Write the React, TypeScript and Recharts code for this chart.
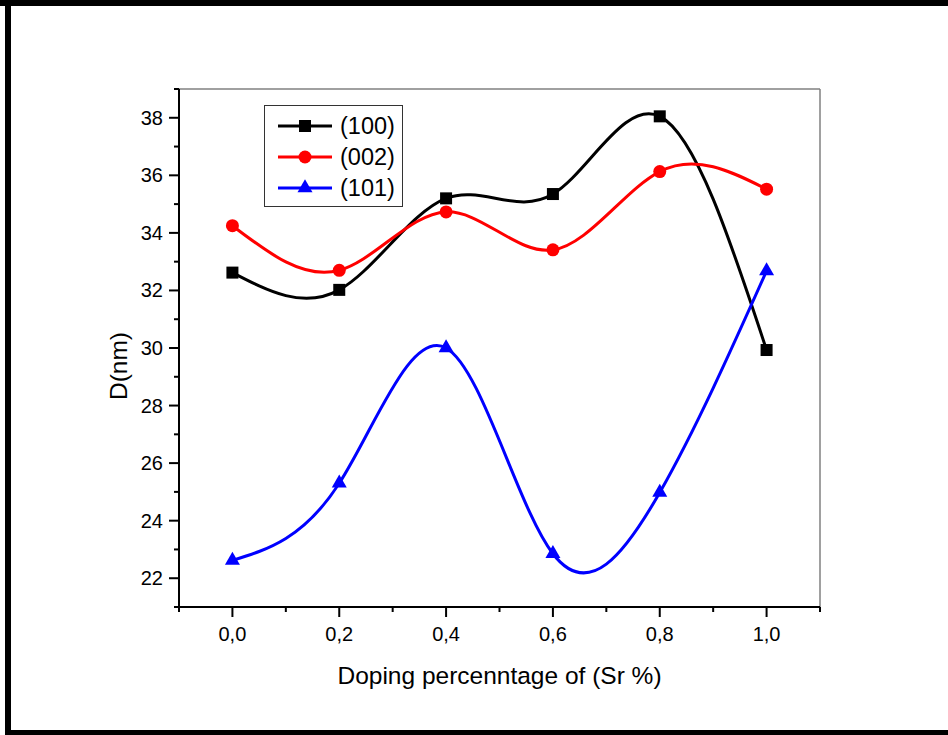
import React from 'react'
import { LineChart, Line, XAxis, YAxis, ReferenceLine, Legend } from 'recharts'

// doping level (Sr %) and crystallite size D (nm) per reflection
const dopingLevels = [0, 0.2, 0.4, 0.6, 0.8, 1.0]
const d100 = [32.62, 32.02, 35.2, 35.35, 38.05, 29.93]
const d002 = [34.25, 32.7, 34.73, 33.41, 36.13, 35.52]
const d101 = [22.62, 25.3, 30.0, 22.85, 24.98, 32.68]

const xTicks = [-0.1, 0, 0.1, 0.2, 0.3, 0.4, 0.5, 0.6, 0.7, 0.8, 0.9, 1.0, 1.1]
const xMajor = [0, 0.2, 0.4, 0.6, 0.8, 1.0]
const yTicks = [21, 22, 23, 24, 25, 26, 27, 28, 29, 30, 31, 32, 33, 34, 35, 36, 37, 38, 39]
const yMajor = [22, 24, 26, 28, 30, 32, 34, 36, 38]

const chartData = dopingLevels.map((x, i) => ({
  x,
  '(100)': d100[i],
  '(002)': d002[i],
  '(101)': d101[i],
}))

const FONT = '"Liberation Sans", Arial, sans-serif'

const isMajor = (list: number[], v: number) => list.some(m => Math.abs(m - v) < 1e-6)

const XTick = (props: any) => {
  const { x, y, payload } = props
  const major = isMajor(xMajor, payload.value)
  return (
    <g>
      <line x1={x} x2={x} y1={y} y2={y + (major ? 10 : 5)} stroke="#000" strokeWidth={2} />
      {major && (
        <text x={x} y={y + 34} textAnchor="middle" fontSize={20} fontFamily={FONT} fill="#000">
          {payload.value.toFixed(1).replace('.', ',')}
        </text>
      )}
    </g>
  )
}

const YTick = (props: any) => {
  const { x, y, payload } = props
  const major = isMajor(yMajor, payload.value)
  return (
    <g>
      <line x1={x} x2={x - (major ? 10 : 5)} y1={y} y2={y} stroke="#000" strokeWidth={2} />
      {major && (
        <text x={x - 16} y={y + 7} textAnchor="end" fontSize={20} fontFamily={FONT} fill="#000">
          {payload.value}
        </text>
      )}
    </g>
  )
}

const Square = ({ cx, cy, fill, size = 12 }: any) =>
  cx == null ? null : <rect x={cx - size / 2} y={cy - size / 2} width={size} height={size} fill={fill} />

const Circle = ({ cx, cy, fill, size = 13 }: any) =>
  cx == null ? null : <circle cx={cx} cy={cy} r={size / 2} fill={fill} />

const Triangle = ({ cx, cy, fill, size = 15 }: any) => {
  if (cx == null) return null
  const h = size * 0.87
  return (
    <polygon
      points={`${cx},${cy - (h * 2) / 3} ${cx - size / 2},${cy + h / 3} ${cx + size / 2},${cy + h / 3}`}
      fill={fill}
    />
  )
}

const series = [
  { key: '(100)', color: '#000000', Marker: Square },
  { key: '(002)', color: '#ff0000', Marker: Circle },
  { key: '(101)', color: '#0000ff', Marker: Triangle },
]

const LegendBox = () => (
  <div
    style={{
      width: 139,
      height: 102,
      border: '1.5px solid #333',
      boxSizing: 'border-box',
      background: '#fff',
      fontFamily: FONT,
    }}
  >
    <svg width={136} height={99}>
      {series.map((s, i) => {
        const cy = 20 + i * 31
        return (
          <g key={s.key}>
            <line x1={13} x2={67} y1={cy} y2={cy} stroke={s.color} strokeWidth={3} />
            <s.Marker cx={40} cy={cy} fill={s.color} />
            <text x={75} y={cy + 8} fontSize={23.5} fontFamily={FONT} fill="#000">
              {s.key}
            </text>
          </g>
        )
      })}
    </svg>
  </div>
)

export default function App() {
  return (
    <div style={{ position: 'absolute', left: 0, top: 0, width: 948, height: 735, background: '#fff' }}>
      <div style={{ position: 'absolute', left: 0, top: 0, width: 948, height: 6, background: '#000' }} />
      <div style={{ position: 'absolute', left: 5, top: 0, width: 6, height: 735, background: '#000' }} />
      <div style={{ position: 'absolute', left: 5, top: 730, width: 943, height: 5, background: '#000' }} />
      <LineChart
        width={948}
        height={735}
        data={chartData}
        margin={{ top: 89, right: 128, bottom: 38, left: 99 }}
        style={{ position: 'absolute', left: 0, top: 0 }}
      >
        <XAxis
          dataKey="x"
          type="number"
          domain={[-0.1, 1.1]}
          ticks={xTicks}
          interval={0}
          tickSize={0}
          tickMargin={0}
          tick={XTick}
          tickLine={false}
          axisLine={{ stroke: '#000', strokeWidth: 2 }}
          height={90}
          label={{
            value: 'Doping percenntage of (Sr %)',
            position: 'insideBottom',
            offset: 13,
            fontSize: 24.5,
            fontFamily: FONT,
            fill: '#000',
          }}
        />
        <YAxis
          type="number"
          domain={[21, 39]}
          ticks={yTicks}
          interval={0}
          tickSize={0}
          tickMargin={0}
          tick={YTick}
          tickLine={false}
          axisLine={{ stroke: '#000', strokeWidth: 2 }}
          width={80}
          label={{
            content: (p: any) => {
              const vb = p.viewBox
              const cx = vb.x + 19
              const cy = vb.y + vb.height / 2 + 18
              return (
                <text
                  transform={`translate(${cx},${cy}) rotate(-90)`}
                  textAnchor="middle"
                  dominantBaseline="central"
                  fontSize={24.5}
                  fontFamily={FONT}
                  fill="#000"
                >
                  D(nm)
                </text>
              )
            },
          }}
        />
        <ReferenceLine y={39} stroke="#808080" strokeWidth={1.5} />
        <ReferenceLine x={1.1} stroke="#808080" strokeWidth={1.5} />
        <Legend
          layout="horizontal"
          verticalAlign="middle"
          align="center"
          content={LegendBox}
          wrapperStyle={{ position: 'absolute', left: 264, top: 105, width: 139, height: 102 }}
        />
        {series.map(s => (
          <Line
            key={s.key}
            type="natural"
            dataKey={s.key}
            stroke={s.color}
            strokeWidth={3}
            dot={(p: any) => <s.Marker key={`${s.key}-${p.index}`} cx={p.cx} cy={p.cy} fill={s.color} />}
            activeDot={false}
            isAnimationActive={false}
          />
        ))}
      </LineChart>
    </div>
  )
}
